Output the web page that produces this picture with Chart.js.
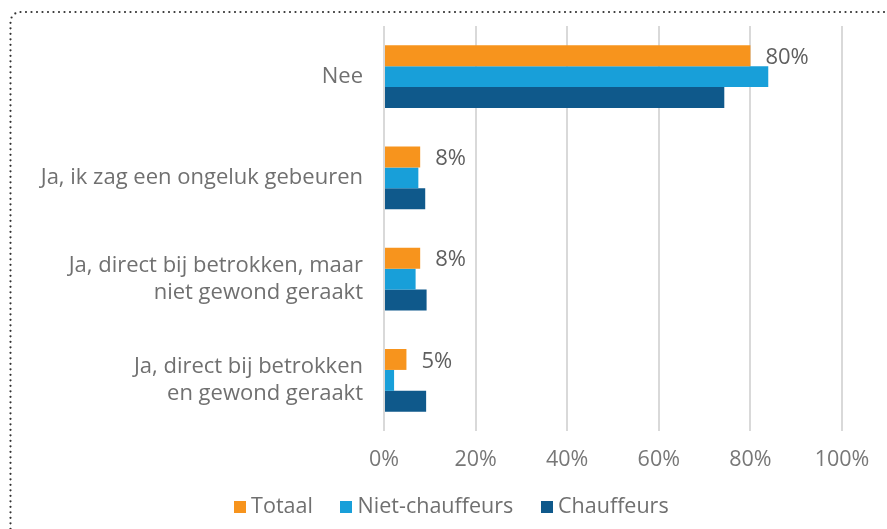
<!DOCTYPE html>
<html>
<head>
<meta charset="utf-8">
<script src="https://cdn.jsdelivr.net/npm/chart.js@4.4.1/dist/chart.umd.min.js"></script>
<style>
  html, body { margin: 0; padding: 0; background: #fff; width: 887px; height: 529px; overflow: hidden; }
  #wrap { position: relative; width: 887px; height: 529px; }
  canvas { position: absolute; left: 0; top: 0; }
  svg { position: absolute; left: 0; top: 0; pointer-events: none; }
</style>
</head>
<body>
<div id="wrap">
  <canvas id="c" width="887" height="529"></canvas>
  <svg width="887" height="529">
    <rect x="10.5" y="12" width="1000" height="700" rx="10" ry="10" fill="none" stroke="#333" stroke-width="2.2" stroke-dasharray="0 5.5" stroke-linecap="round"/>
  </svg>
</div>
<script>
const categories = [
  "Nee",
  "Ja, ik zag een ongeluk gebeuren",
  ["Ja, direct bij betrokken, maar", "niet gewond geraakt"],
  ["Ja, direct bij betrokken", "en gewond geraakt"]
];
const seriesNames = ["Totaal", "Niet-chauffeurs", "Chauffeurs"];
const seriesColors = ["#F7941D", "#189FD9", "#0F598B"];
const totaal = [80, 7.9, 7.9, 4.9];
const nietChauffeurs = [83.9, 7.5, 6.9, 2.2];
const chauffeurs = [74.3, 9.0, 9.3, 9.2];
const totaalLabels = ["80%", "8%", "8%", "5%"];
const xTicks = [0, 20, 40, 60, 80, 100];

const FONT = "'Open Sans', sans-serif";
const PAD_RIGHT = 45;
const LEGEND_HEIGHT = 38;
const LEGEND_TOP = 463;
const LEGEND_SHIFT = 33;

function squareStyle(color) {
  const c = document.createElement('canvas');
  c.width = 12; c.height = 12;
  const g = c.getContext('2d');
  g.fillStyle = color;
  g.fillRect(0, 0, 12, 12);
  return c;
}

const labelPlugin = {
  id: 'barLabels',
  afterDatasetsDraw(chart) {
    const ctx = chart.ctx;
    const meta = chart.getDatasetMeta(0);
    ctx.save();
    ctx.font = "22px " + FONT;
    ctx.fillStyle = "#5f5f5f";
    ctx.textAlign = "left";
    ctx.textBaseline = "middle";
    meta.data.forEach((bar, i) => {
      ctx.fillText(totaalLabels[i], bar.x + 15, bar.y + 2);
    });
    ctx.restore();
  }
};

const legendFix = {
  id: 'legendFix',
  beforeLayout(chart) {
    const lg = chart.legend;
    if (lg && !lg._patched) {
      const orig = lg.fit.bind(lg);
      lg.fit = function () { orig(); this.height = LEGEND_HEIGHT; };
      lg._patched = true;
    }
  },
  afterLayout(chart) {
    const lg = chart.legend;
    if (lg) {
      lg.left += LEGEND_SHIFT; lg.right += LEGEND_SHIFT;
      lg.top = LEGEND_TOP; lg.bottom = chart.height;
    }
  }
};

new Chart(document.getElementById('c'), {
  type: 'bar',
  data: {
    labels: categories,
    datasets: [
      { label: seriesNames[0], data: totaal, backgroundColor: seriesColors[0], pointStyle: squareStyle(seriesColors[0]) },
      { label: seriesNames[1], data: nietChauffeurs, backgroundColor: seriesColors[1], pointStyle: squareStyle(seriesColors[1]) },
      { label: seriesNames[2], data: chauffeurs, backgroundColor: seriesColors[2], pointStyle: squareStyle(seriesColors[2]) }
    ]
  },
  options: {
    indexAxis: 'y',
    responsive: false,
    animation: false,
    devicePixelRatio: 1,
    datasets: { bar: { categoryPercentage: 0.62, barPercentage: 1.0 } },
    layout: { padding: { top: 26, right: PAD_RIGHT, left: 0, bottom: 0 } },
    plugins: {
      tooltip: { enabled: false },
      legend: {
        position: 'bottom',
        labels: {
          usePointStyle: true,
          pointStyleWidth: 1,
          boxHeight: 12,
          padding: 33,
          color: "#707070",
          font: { family: FONT, size: 21.5 }
        }
      }
    },
    scales: {
      x: {
        min: 0, max: 100,
        afterBuildTicks(scale) { scale.ticks = xTicks.map(v => ({ value: v })); },
        afterFit(scale) { scale.height = 529 - LEGEND_HEIGHT - 431; scale.paddingLeft = 0; scale.paddingRight = 0; },
        ticks: {
          callback: v => v + "%",
          color: "#777777",
          padding: 16,
          font: { family: FONT, size: 21.5 }
        },
        grid: { color: "#d9d9d9", lineWidth: 2, drawTicks: false },
        border: { display: false }
      },
      y: {
        afterFit(scale) { scale.width = 384; scale.paddingTop = 0; scale.paddingBottom = 0; },
        ticks: {
          color: "#707070",
          padding: 21,
          font: { family: FONT, size: 22, lineHeight: 1.2 }
        },
        grid: { display: false, drawTicks: false },
        border: { display: false }
      }
    }
  },
  plugins: [labelPlugin, legendFix]
});
</script>
</body>
</html>
